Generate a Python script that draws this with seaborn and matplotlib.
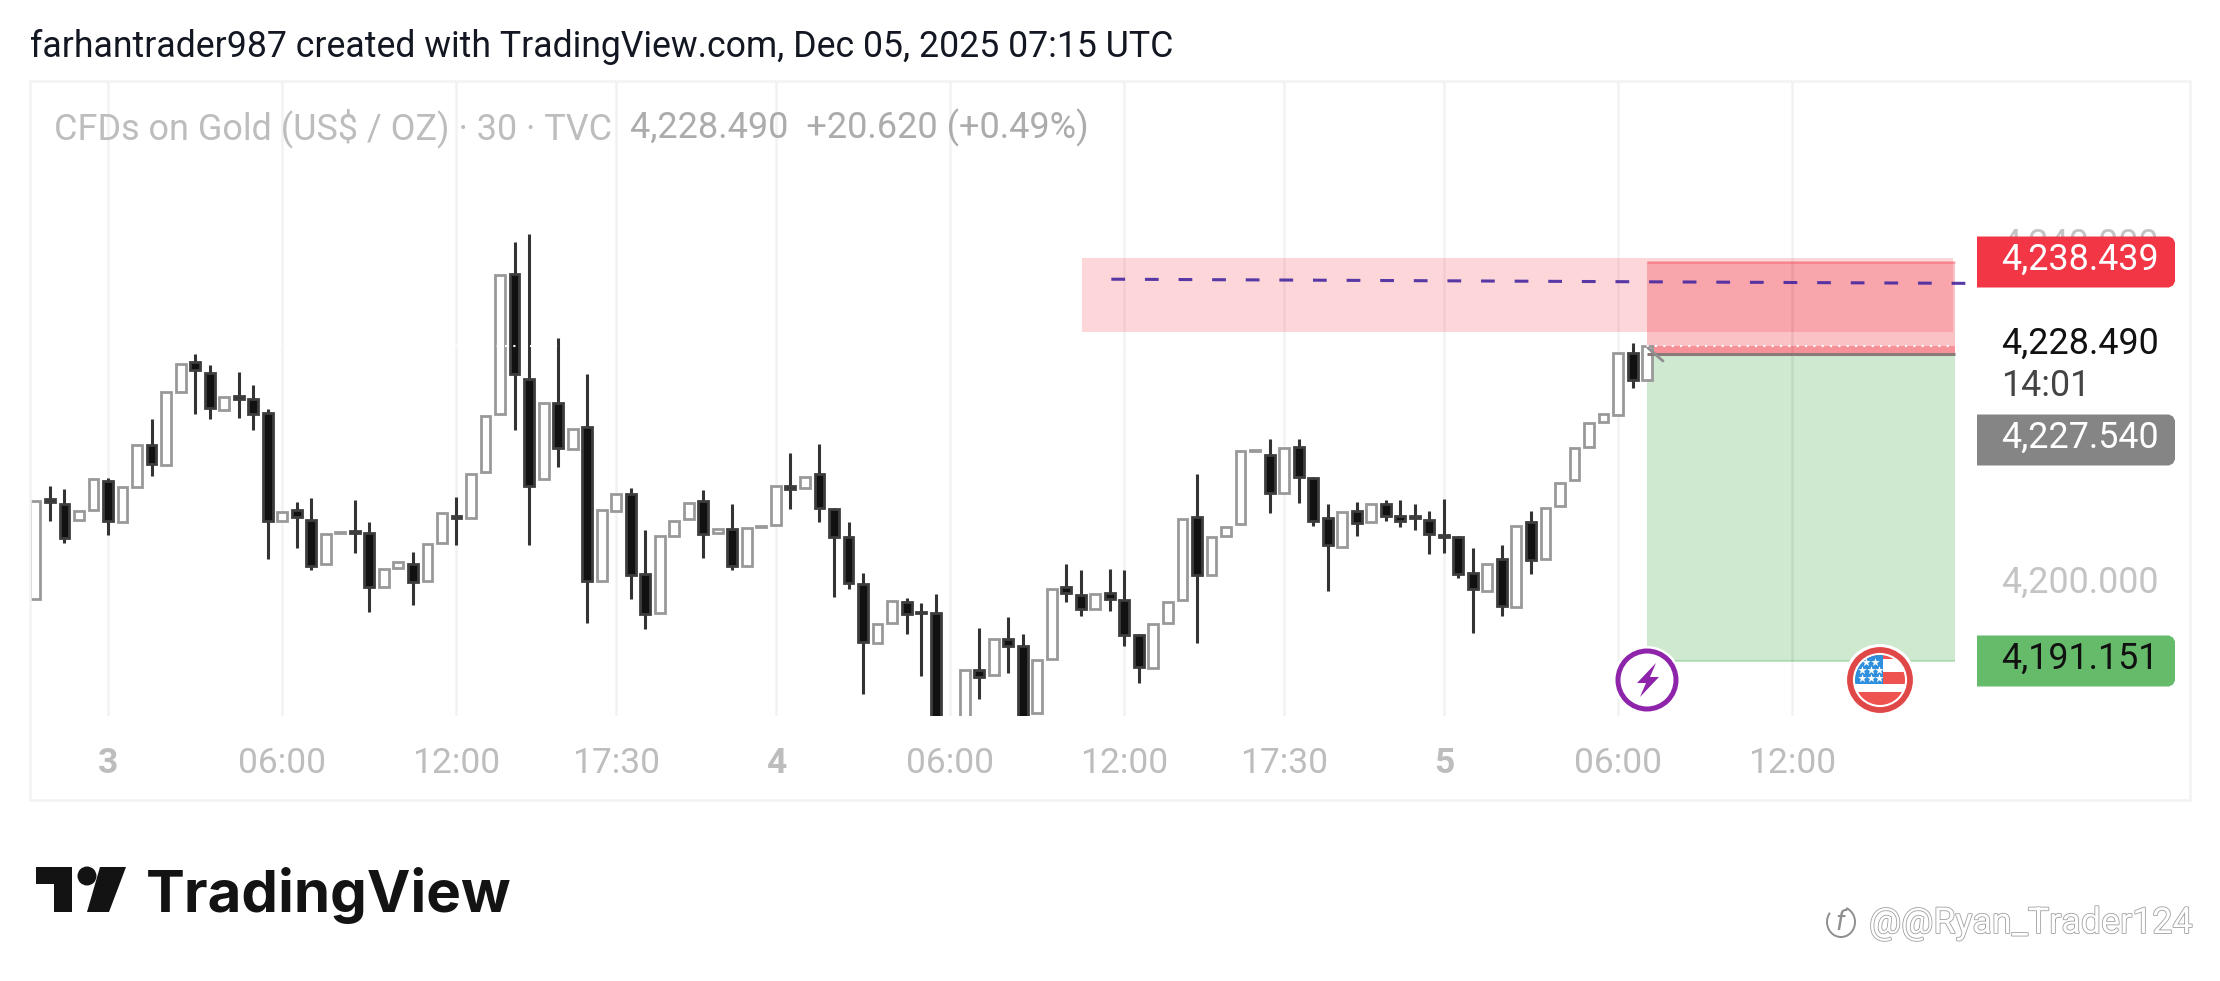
import numpy as np
import pandas as pd
import matplotlib
matplotlib.use("Agg")
import matplotlib.pyplot as plt
import matplotlib.patheffects as pe
import seaborn as sns
from matplotlib.patches import Rectangle, Circle, Polygon, Arc

# 30 min candles (nan = bar sits below the visible pane)
opens = [4198.5, 4210.4, 4209.8, 4207.9, 4209.0, 4212.5, 4207.6, 4211.8, 4216.7, 4214.4,
         4223.0, 4226.6, 4225.3, 4220.9, 4222.6, 4222.2, 4220.5, 4207.8, 4209.1, 4207.9,
         4202.6, 4206.3, 4206.6, 4206.3, 4199.9, 4202.2, 4202.7, 4200.7, 4205.2, 4208.4,
         4208.1, 4213.5, 4220.4, 4237.0, 4224.6, 4212.7, 4221.7, 4216.3, 4218.9, 4200.6,
         4208.9, 4211.0, 4201.5, 4196.9, 4206.0, 4208.0, 4210.1, 4206.3, 4206.8, 4202.4,
         4207.0, 4207.3, 4211.9, 4211.7, 4213.3, 4209.2, 4205.9, 4200.3, 4193.3, 4195.7,
         4198.2, 4197.0, 4196.8, np.nan, 4182.0, 4190.1, 4189.5, 4193.8, 4192.9, 4185.0,
         4191.4, 4199.9, 4199.0, 4197.3, 4199.2, 4198.4, 4194.3, 4190.3, 4195.7, 4198.4,
         4208.2, 4201.4, 4206.0, 4207.4, 4216.0, 4215.6, 4211.1, 4216.5, 4212.9, 4208.1,
         4204.7, 4208.9, 4207.6, 4209.8, 4208.4, 4208.3, 4207.9, 4206.1, 4205.8, 4201.6,
         4199.5, 4203.2, 4197.6, 4207.6, 4203.2, 4209.5, 4212.6, 4216.5, 4219.5, 4220.3,
         4227.7, 4224.5]
closes = [4210.1, 4210.0, 4205.7, 4208.9, 4212.7, 4207.7, 4211.8, 4216.8, 4214.5, 4223.0,
          4226.4, 4225.6, 4221.1, 4222.4, 4222.2, 4220.4, 4207.7, 4208.8, 4208.2, 4202.4,
          4206.2, 4206.5, 4206.3, 4199.9, 4202.1, 4202.9, 4200.5, 4205.0, 4208.7, 4208.1,
          4213.3, 4220.2, 4236.9, 4225.2, 4211.9, 4221.7, 4216.4, 4218.7, 4200.6, 4209.0,
          4211.0, 4201.4, 4196.7, 4206.0, 4207.8, 4209.9, 4206.2, 4206.8, 4202.4, 4206.9,
          4207.2, 4211.9, 4211.6, 4213.0, 4209.3, 4205.9, 4200.4, 4193.4, 4195.6, 4198.3,
          4196.7, 4196.8, 4180.0, np.nan, 4190.1, 4189.3, 4193.8, 4192.9, 4184.4, 4191.3,
          4199.7, 4199.2, 4197.3, 4199.1, 4198.5, 4194.3, 4190.4, 4195.5, 4198.2, 4208.0,
          4201.3, 4205.9, 4207.0, 4216.1, 4216.2, 4211.1, 4216.4, 4213.0, 4207.8, 4204.9,
          4208.8, 4207.5, 4209.8, 4208.3, 4207.8, 4208.1, 4206.2, 4205.8, 4201.5, 4199.7,
          4202.7, 4197.7, 4207.2, 4203.1, 4209.3, 4212.2, 4216.4, 4219.4, 4220.4, 4227.6,
          4224.4, 4228.5]
highs = [4210.1, 4211.9, 4211.5, 4208.9, 4212.7, 4212.9, 4211.8, 4216.8, 4219.8, 4223.0,
         4226.4, 4227.5, 4226.2, 4222.4, 4225.4, 4223.9, 4221.0, 4208.8, 4210.0, 4210.5,
         4206.2, 4206.5, 4210.2, 4207.6, 4202.1, 4202.9, 4204.1, 4205.0, 4208.7, 4210.6,
         4213.3, 4220.2, 4236.9, 4240.8, 4241.8, 4221.7, 4229.4, 4218.7, 4225.2, 4209.0,
         4211.0, 4211.7, 4206.7, 4206.0, 4207.8, 4209.9, 4211.4, 4206.8, 4209.8, 4206.9,
         4207.2, 4211.9, 4215.8, 4213.0, 4216.9, 4209.3, 4207.6, 4201.6, 4195.6, 4198.3,
         4198.6, 4198.0, 4199.1, np.nan, 4190.1, 4195.1, 4193.8, 4196.4, 4194.4, 4191.3,
         4199.7, 4202.7, 4201.9, 4199.1, 4202.1, 4201.9, 4194.4, 4195.5, 4198.2, 4208.0,
         4213.3, 4205.9, 4207.0, 4216.1, 4216.2, 4217.5, 4216.4, 4217.5, 4213.0, 4209.8,
         4208.8, 4210.0, 4209.8, 4210.2, 4210.2, 4209.8, 4208.9, 4210.4, 4206.0, 4204.5,
         4202.7, 4204.9, 4207.2, 4208.9, 4209.3, 4212.2, 4216.4, 4219.4, 4220.4, 4227.6,
         4228.8, 4228.5]
lows = [4198.5, 4207.7, 4205.1, 4207.9, 4209.0, 4206.1, 4207.6, 4211.8, 4213.1, 4214.4,
        4223.0, 4220.4, 4219.8, 4220.9, 4220.0, 4218.5, 4203.3, 4207.8, 4204.6, 4201.9,
        4202.6, 4206.3, 4204.0, 4197.0, 4199.9, 4202.2, 4197.8, 4200.7, 4205.2, 4204.9,
        4208.1, 4213.5, 4220.4, 4218.5, 4204.9, 4212.7, 4214.1, 4216.3, 4195.7, 4200.6,
        4208.9, 4198.5, 4195.0, 4196.9, 4206.0, 4208.0, 4203.4, 4206.3, 4202.0, 4202.4,
        4207.0, 4207.3, 4209.2, 4211.7, 4207.6, 4198.8, 4199.7, 4187.2, 4193.3, 4195.7,
        4194.4, 4189.4, 4180.0, np.nan, 4182.0, 4186.7, 4189.5, 4189.8, 4184.4, 4185.0,
        4191.4, 4198.2, 4196.5, 4197.3, 4197.1, 4193.0, 4188.6, 4190.3, 4195.7, 4198.4,
        4193.3, 4201.4, 4206.0, 4207.4, 4216.0, 4208.7, 4211.1, 4209.9, 4207.2, 4199.5,
        4204.7, 4206.0, 4207.6, 4207.8, 4207.0, 4206.7, 4203.8, 4204.0, 4201.0, 4194.5,
        4199.5, 4196.5, 4197.6, 4201.5, 4203.2, 4209.5, 4212.6, 4216.5, 4219.5, 4220.3,
        4223.5, 4224.5]

tick_bars = [5, 17, 29, 40, 51, 63, 75, 86, 97, 109, 121]
tick_labels = ["3", "06:00", "12:00", "17:30", "4", "06:00", "12:00", "17:30", "5", "06:00", "12:00"]
day_labels = ["3", "4", "5"]

# drawn levels
last_price = 4228.490
entry_price = 4227.540
stop_price = 4238.439
target_price = 4191.151
zone_top = 4238.9
zone_bottom = 4230.1
zone_start = 72.1
zone_end = 132.1
position_start = 111.0
position_end = 132.2
alert_bars = [74.1, 133.7]
alert_prices = [4236.4, 4235.9]

title_text = "farhantrader987 created with TradingView.com, Dec 05, 2025 07:15 UTC"
symbol_text = "CFDs on Gold (US$ / OZ) · 30 · TVC"
ohlc_text = "4,228.490  +20.620 (+0.49%)"

sns.set_theme(style="white")
plt.rcParams["font.family"] = "Roboto"

df = pd.DataFrame({"bar": np.arange(len(opens)), "open": opens, "high": highs, "low": lows, "close": closes}).dropna()
df["top"] = df[["open", "close"]].max(axis=1)
df["bottom"] = df[["open", "close"]].min(axis=1)
df["height"] = df["top"] - df["bottom"]
up = df[df["close"] >= df["open"]]
down = df[df["close"] < df["open"]]
wicks = pd.concat([down[["bar", "high"]].rename(columns={"high": "price"}),
                   down[["bar", "low"]].rename(columns={"low": "price"})])

fig = plt.figure(figsize=(22.2, 9.81), dpi=100)
ax = fig.add_axes([30 / 2220, (981 - 716) / 981, 2160 / 2220, (716 - 81) / 981])

# grid first so everything sits on top
ax.set_axisbelow(True)

# zones and position box
ax.fill_between([zone_start, zone_end], zone_bottom, zone_top, color="#f23645", alpha=0.2, lw=0, zorder=1)
ax.fill_between([position_start, position_end], entry_price, stop_price, color="#f23645", alpha=0.3, lw=0, zorder=1)
ax.fill_between([position_start, position_end], entry_price, last_price, color="#f23645", alpha=0.35, lw=0, zorder=1)
ax.fill_between([position_start, position_end], target_price, entry_price, color="#4caf50", alpha=0.27, lw=0, zorder=1)
ax.hlines(stop_price, position_start, position_end, color="#f23645", alpha=0.3, lw=2)
ax.hlines(target_price, position_start, position_end, color="#4caf50", alpha=0.3, lw=1.5)
ax.vlines(121, target_price, stop_price, color="#000000", alpha=0.025, lw=1.8, zorder=1.5)

sns.lineplot(data=wicks, x="bar", y="price", units="bar", estimator=None, sort=False,
             color="#333333", lw=2.2, solid_capstyle="butt", zorder=2.5, ax=ax)
sns.barplot(data=up, x="bar", y="height", bottom=up["bottom"], native_scale=True, width=0.68,
            color="white", saturation=1, edgecolor="#999999", linewidth=2, errorbar=None, zorder=3, ax=ax)
sns.barplot(data=down, x="bar", y="height", bottom=down["bottom"], native_scale=True, width=0.68,
            color="#111111", saturation=1, edgecolor="#3d3d3d", linewidth=2, errorbar=None, zorder=3, ax=ax)

ax.hlines(entry_price, position_start, position_end, color="#8a7a7a", lw=2.2, zorder=4)
ax.axhline(last_price, color="white", ls=(0, (1, 3)), lw=1.5, zorder=4)
ax.plot(alert_bars, alert_prices, color="#4527a0", alpha=0.9, lw=2.2, ls=(0, (4.5, 6.5)), zorder=4)

ax.set_xlim(-0.372, 148.39)
ax.set_ylim(4184.65, 4259.88)
ax.set_xticks(tick_bars)
ax.set_xticklabels(tick_labels)
ax.set_yticks([])
ax.set_xlabel("")
ax.set_ylabel("")
ax.grid(axis="x", color="#f2f2f2", lw=1.8)
ax.grid(axis="y", visible=False)
ax.tick_params(axis="x", length=0, pad=22, labelsize=25.5, labelcolor="#bdbdbd")
for lab in ax.get_xticklabels():
    if lab.get_text() in day_labels:
        lab.set_fontweight("bold")
sns.despine(ax=ax, left=True, bottom=True)

# overlay in pixels for the scale labels, icons, logo
ov = fig.add_axes([0, 0, 1, 1], zorder=5)
ov.set_xlim(0, 2220)
ov.set_ylim(981, 0)
ov.axis("off")
ov.patch.set_alpha(0)

ov.add_patch(Rectangle((30, 81), 2160, 719, fill=False, ec="#f3f3f3", lw=1.8))

ov.text(30, 47, title_text, fontsize=25.7, color="#131722", va="center")
ov.text(54, 128, symbol_text, fontsize=25.9, color="#bdbdbd", va="center")
ov.text(630, 128, ohlc_text, fontsize=26, color="#acacac", va="center")

# the 4,240 tick is mostly hidden behind the red tag
ov.text(2001, 245, "4,240.000", fontsize=25.8, color="#c4c4c4", va="center", zorder=1)
ov.text(2001, 583, "4,200.000", fontsize=25.8, color="#c4c4c4", va="center")
ov.text(2001, 344, "4,228.490", fontsize=25.8, color="#111111", va="center")
ov.text(2001, 386, "14:01", fontsize=25.8, color="#444444", va="center")


def price_tag(y, label, face, ink):
    top = y - 25.5
    bot = y + 25.5
    ov.add_patch(Polygon([(1977, top), (2169, top), (2173, top + 2), (2175, top + 6), (2175, bot - 6),
                          (2173, bot - 2), (2169, bot), (1977, bot)], fc=face, ec="none", zorder=2))
    ov.text(2001, y - 2.5, label, fontsize=25.8, color=ink, va="center", zorder=3)


price_tag(262, "4,238.439", "#f23645", "white")
price_tag(440, "4,227.540", "#858585", "white")
price_tag(661, "4,191.151", "#66bb6a", "#111111")

# little pointer next to the last bar
ov.plot([1648, 1663], [348, 361], color="#8f8f8f", lw=2)

# lightning badge
ov.add_patch(Circle((1647, 680), 34, fc="white", ec="none"))
ov.add_patch(Circle((1647, 680), 29, fc="white", ec="#8e24aa", lw=3.6))
ov.add_patch(Polygon([(1656, 663), (1637, 683), (1646, 683), (1640, 697), (1659, 677), (1650, 677)], fc="#8e24aa", ec="none"))

# US flag badge
ov.add_patch(Circle((1880, 680), 36, fc="white", ec="none"))
ov.add_patch(Circle((1880, 680), 30, fc="white", ec="#e04848", lw=4.2))
clip = Circle((1880, 680), 25, transform=ov.transData)
flag_parts = [Rectangle((1855, 652), 50, 7, fc="#ef5350", ec="none"),
              Rectangle((1880, 672), 30, 12, fc="#ef5350", ec="none"),
              Rectangle((1855, 692), 50, 14, fc="#ef5350", ec="none"),
              Rectangle((1855, 652), 28, 32, fc="#2f8fdc", ec="none")]
for part in flag_parts:
    ov.add_patch(part)
    part.set_clip_path(clip)
ov.scatter([1866, 1875, 1862, 1871, 1879, 1862, 1871, 1879], [662, 662, 670, 670, 670, 678, 678, 678],
           marker="*", s=42, color="white", lw=0)

# TradingView logo
ov.add_patch(Polygon([(36, 867), (72, 867), (72, 912), (54, 912), (54, 884), (36, 884)], fc="#131313", ec="none"))
ov.add_patch(Circle((87, 876), 9.5, fc="#131313", ec="none"))
ov.add_patch(Polygon([(100, 867), (126, 867), (109, 912), (87, 912)], fc="#131313", ec="none"))
ov.text(146, 912, "TradingView", fontsize=42, fontfamily="Inter", fontweight="bold",
        color="#131313", va="baseline")

# watermark, embossed look
ov.add_patch(Arc((1841, 922), 28, 30, angle=0, theta1=-70, theta2=220, ec="#8f8f8f", lw=1.4))
ov.text(1840, 923, "f", fontsize=20, color="#8f8f8f", ha="center", va="center", style="italic")
ov.text(1869, 923, "@@Ryan_Trader124", fontsize=25.8, color="white", va="center",
        path_effects=[pe.withStroke(linewidth=1.2, foreground="#a0a0a0")])

fig.savefig("out.png", dpi=100)
